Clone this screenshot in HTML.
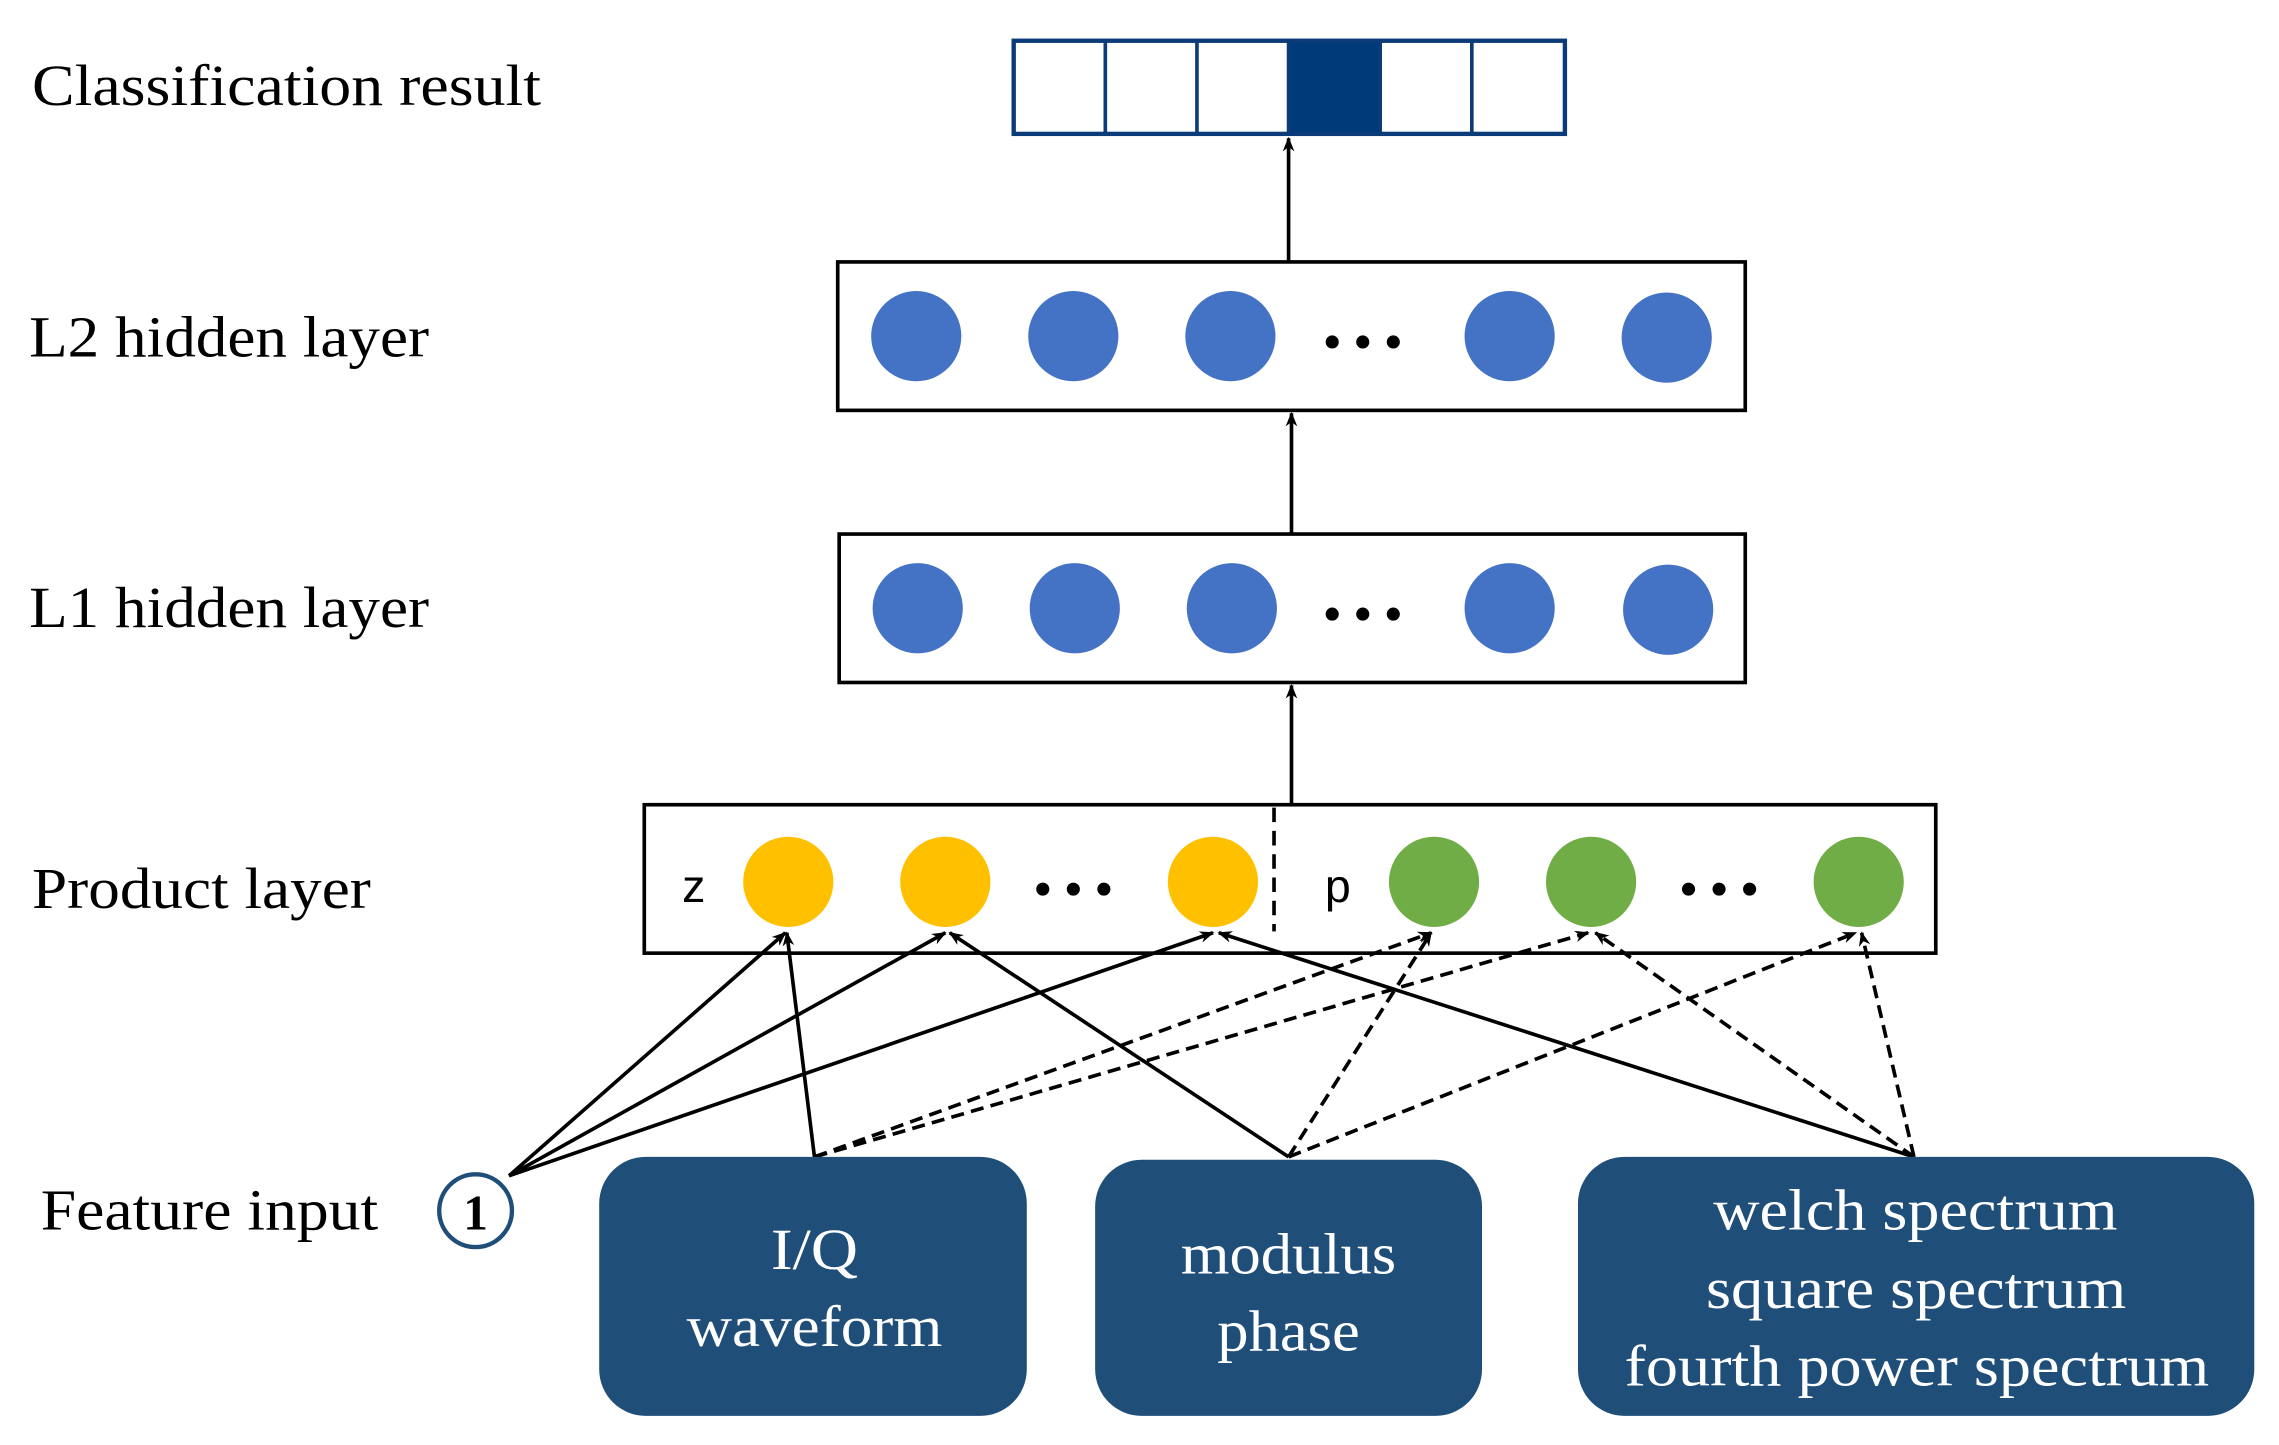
<!DOCTYPE html>
<html><head><meta charset="utf-8"><style>html,body{margin:0;padding:0;background:#fff}svg{display:block}</style></head>
<body>
<svg width="2279" height="1445" viewBox="0 0 1567 993" preserveAspectRatio="none" xmlns="http://www.w3.org/2000/svg">
<defs>
<marker id="a" markerWidth="10" markerHeight="10" refX="9" refY="5" orient="auto" markerUnits="userSpaceOnUse">
<path d="M0,1 L10,5 L0,9 L3,5 Z" fill="#000"/></marker>
</defs>
<g font-family="Liberation Serif, serif" font-size="40" fill="#000">
<text x="22" y="72" textLength="350" lengthAdjust="spacingAndGlyphs">Classification result</text>
<text x="20" y="245" textLength="275" lengthAdjust="spacingAndGlyphs">L2 hidden layer</text>
<text x="20" y="431" textLength="275" lengthAdjust="spacingAndGlyphs">L1 hidden layer</text>
<text x="22" y="624" textLength="233" lengthAdjust="spacingAndGlyphs">Product layer</text>
<text x="28" y="845" textLength="232" lengthAdjust="spacingAndGlyphs">Feature input</text>
</g>
<rect x="886" y="28" width="63" height="64" fill="#003a78"/>
<rect x="697" y="28" width="379" height="64" fill="none" stroke="#0b3b78" stroke-width="3"/>
<g stroke="#0b3b78" stroke-width="2.5">
<line x1="760" y1="28" x2="760" y2="92"/><line x1="823" y1="28" x2="823" y2="92"/>
<line x1="886" y1="28" x2="886" y2="92"/><line x1="949" y1="28" x2="949" y2="92"/>
<line x1="1012" y1="28" x2="1012" y2="92"/></g>
<g stroke="#000" stroke-width="2.5" fill="none">
<line x1="886" y1="180" x2="886" y2="95" marker-end="url(#a)"/>
<line x1="888" y1="367" x2="888" y2="284" marker-end="url(#a)"/>
<line x1="888" y1="553" x2="888" y2="471" marker-end="url(#a)"/>
</g>
<rect x="576" y="180" width="624" height="102" fill="none" stroke="#000" stroke-width="2.5"/>
<rect x="577" y="367" width="623" height="102" fill="none" stroke="#000" stroke-width="2.5"/>
<rect x="443" y="553" width="888" height="102" fill="none" stroke="#000" stroke-width="2.5"/>
<line x1="876" y1="555" x2="876" y2="640" stroke="#000" stroke-width="2.5" stroke-dasharray="10,6"/>
<g fill="#4472c4">
<circle cx="630" cy="231" r="31"/><circle cx="738" cy="231" r="31"/><circle cx="846" cy="231" r="31"/><circle cx="1038" cy="231" r="31"/><circle cx="1146" cy="232" r="31"/>
<circle cx="631" cy="418" r="31"/><circle cx="739" cy="418" r="31"/><circle cx="847" cy="418" r="31"/><circle cx="1038" cy="418" r="31"/><circle cx="1147" cy="419" r="31"/>
</g>
<g fill="#000">
<circle cx="916" cy="235" r="4.5"/><circle cx="937" cy="235" r="4.5"/><circle cx="958" cy="235" r="4.5"/>
<circle cx="916" cy="422" r="4.5"/><circle cx="937" cy="422" r="4.5"/><circle cx="958" cy="422" r="4.5"/>
<circle cx="717" cy="611" r="4.5"/><circle cx="738" cy="611" r="4.5"/><circle cx="759" cy="611" r="4.5"/>
<circle cx="1161" cy="611" r="4.5"/><circle cx="1182" cy="611" r="4.5"/><circle cx="1203" cy="611" r="4.5"/>
</g>
<g fill="#ffc000"><circle cx="542" cy="606" r="31"/><circle cx="650" cy="606" r="31"/><circle cx="834" cy="606" r="31"/></g>
<g fill="#70ad47"><circle cx="986" cy="606" r="31"/><circle cx="1094" cy="606" r="31"/><circle cx="1278" cy="606" r="31"/></g>
<g font-family="Liberation Sans, sans-serif" font-size="32" fill="#000">
<text x="469" y="620">z</text><text x="911" y="620">p</text></g>
<g stroke="#000" stroke-width="2.5" fill="none" marker-end="url(#a)">
<line x1="350" y1="808" x2="540" y2="641"/>
<line x1="350" y1="808" x2="650" y2="641"/>
<line x1="350" y1="808" x2="834" y2="641"/>
<line x1="560" y1="795" x2="541" y2="641"/>
<line x1="886" y1="795" x2="653" y2="641"/>
<line x1="1316" y1="795" x2="838" y2="641"/>
</g>
<g stroke="#000" stroke-width="2.5" fill="none" stroke-dasharray="9,5" marker-end="url(#a)">
<line x1="560" y1="795" x2="984" y2="641"/>
<line x1="560" y1="795" x2="1092" y2="641"/>
<line x1="886" y1="795" x2="984" y2="641"/>
<line x1="886" y1="795" x2="1276" y2="641"/>
<line x1="1316" y1="795" x2="1097" y2="641"/>
<line x1="1316" y1="795" x2="1280" y2="641"/>
</g>
<circle cx="327" cy="832" r="25" fill="#fff" stroke="#1f4e79" stroke-width="3"/>
<text x="327" y="845" text-anchor="middle" font-family="Liberation Serif, serif" font-size="34" font-weight="bold">1</text>
<g fill="#1f4e79">
<rect x="412" y="795" width="294" height="178" rx="32"/>
<rect x="753" y="797" width="266" height="176" rx="32"/>
<rect x="1085" y="795" width="465" height="178" rx="32"/>
</g>
<g font-family="Liberation Serif, serif" font-size="40" fill="#fff">
<text x="530" y="872" textLength="60" lengthAdjust="spacingAndGlyphs">I/Q</text>
<text x="472" y="925" textLength="176" lengthAdjust="spacingAndGlyphs">waveform</text>
<text x="812" y="875" textLength="148" lengthAdjust="spacingAndGlyphs">modulus</text>
<text x="837" y="928" textLength="98" lengthAdjust="spacingAndGlyphs">phase</text>
<text x="1178" y="845" textLength="278" lengthAdjust="spacingAndGlyphs">welch spectrum</text>
<text x="1173" y="899" textLength="289" lengthAdjust="spacingAndGlyphs">square spectrum</text>
<text x="1117" y="952" textLength="402" lengthAdjust="spacingAndGlyphs">fourth power spectrum</text>
</g>
</svg>
</body></html>
